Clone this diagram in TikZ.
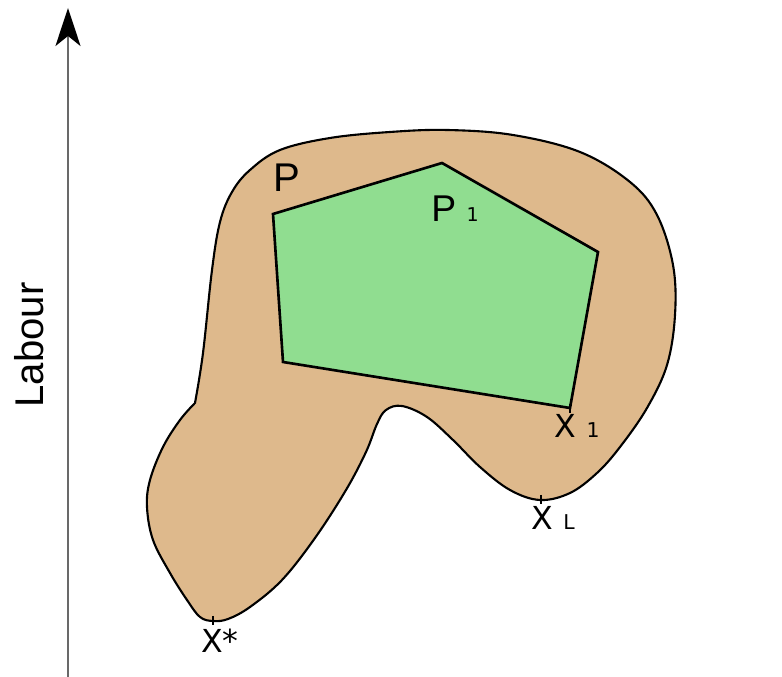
\documentclass[tikz,border=0pt]{standalone}
\usepackage{fontspec}
\setmainfont{Liberation Sans}
\newfontfamily\dvfont{DejaVu Sans}
\usepackage{tikz}
\usetikzlibrary{arrows.meta,positioning}
\usepackage{xcolor}
\definecolor{regionfill}{RGB}{222,185,140}
\definecolor{polyfill}{RGB}{144,221,144}
\definecolor{axisgray}{RGB}{105,105,105}

\begin{document}
\begin{tikzpicture}[
    x=0.01cm, y=-0.01cm,
    region/.style={fill=regionfill, draw=black, line width=0.6pt},
    poly/.style={fill=polyfill, draw=black, line width=0.75pt, line join=miter},
    axis/.style={draw=axisgray, line width=0.6pt,
                 -{Stealth[length=0.38cm, width=0.25cm, inset=0.1cm, black]}},
    tickmark/.style={draw=black, line width=0.5pt},
    big/.style={font=\fontsize{11.4}{13}\selectfont, inner sep=0pt, anchor=base},
    pt/.style={font=\dvfont\fontsize{9}{10}\selectfont, inner sep=0pt, anchor=base}
  ]
  \useasboundingbox (0,0) rectangle (782,677);

  % --- labour axis ---
  \coordinate (axbot) at (68,677);
  \coordinate (axtop) at (68,8);
  \draw[axis] (axbot) -- (axtop);
  \node[big, rotate=90] (labour) at (43,345) {Labour};

  % --- region P ---
  \draw[region] plot[smooth, tension=0.6] coordinates {
      (195,403) (203,353) (212,270) (220,222) (232,192) (250,170) (280,150)
      (330,138) (390,132) (447,130) (513,135) (580,152) (630,182) (657,215)
      (673,265) (675,315) (667,365) (647,408) (620,447) (597,473) (570,493)
      (540,500) (510,490) (480,467) (453,440) (427,417) (402,406) (386,410)
      (377,424) (366,452) (346,490) (315,538) (282,580) (250,607) (228,619)
      (213,621) (200,617) (187,600) (170,573) (153,540) (147,507) (150,480)
      (163,447) (180,420) (195,403)} -- cycle;

  % --- polygon P1 ---
  \coordinate (c1) at (273,214);
  \coordinate (c2) at (442,163);
  \coordinate (c3) at (598,252);
  \coordinate (x1) at (570,408);
  \coordinate (c5) at (283,362);
  \draw[poly] (c1) -- (c2) -- (c3) -- (x1) -- (c5) -- cycle;

  % --- marked points ---
  \coordinate (xl) at (541,500);
  \coordinate (xstar) at (213,621);
  \draw[tickmark] (x1) ++(0,-4) -- ++(0,9);
  \draw[tickmark] (xl) ++(0,-5) -- ++(0,9);
  \draw[tickmark] (xstar) ++(0,-5) -- ++(0,9);

  % --- labels ---
  \node[big] (plabel) at (287,192) {P};
  \node[big, font=\fontsize{10.6}{12}\selectfont] (p1label) at (455,222)
    {P\hspace{3pt}{\dvfont\fontsize{5.4}{7}\selectfont 1}};
  \node[pt] (x1label) at (577,438) {X\hspace{3pt}{\fontsize{5.8}{7}\selectfont 1}};
  \node[pt] (xllabel) at (553,530) {X\hspace{3pt}{\fontsize{5.8}{7}\selectfont L}};
  \node[pt] (xslabel) at (220,653) {X*};
\end{tikzpicture}
\end{document}
